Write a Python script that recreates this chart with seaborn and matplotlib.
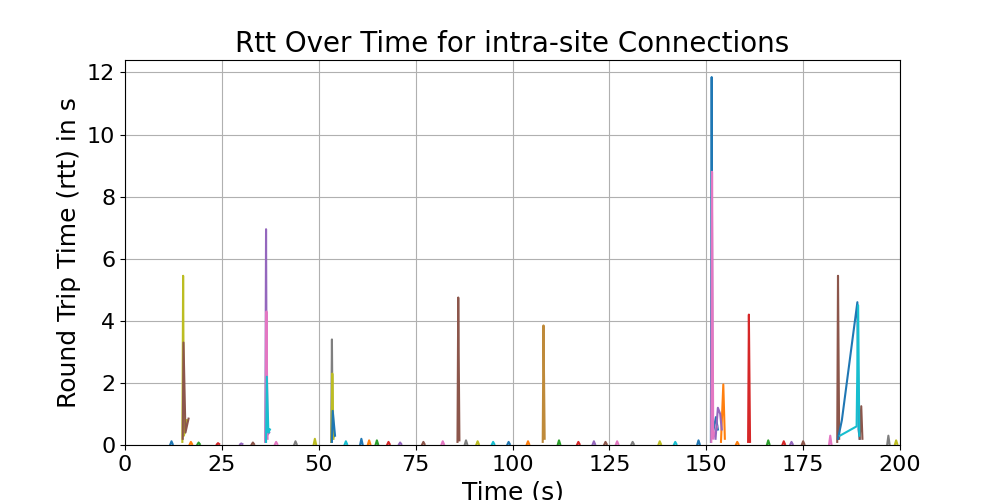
import matplotlib
matplotlib.use("Agg")
import matplotlib.pyplot as plt
import seaborn as sns
import pandas as pd

# each connection: sample times (s) and rtt values (s)
conn_times = [
    [14.8, 15.0, 15.2, 16.0], [14.9, 15.1, 15.6, 16.4], [36.2, 36.4, 36.6, 37.2],
    [36.3, 36.5, 36.8], [36.4, 36.6, 37.0, 37.4], [53.2, 53.4, 53.6, 54.0],
    [53.3, 53.5, 53.8], [53.4, 53.6, 54.2], [85.8, 86.0, 86.3], [107.8, 108.0, 108.3],
    [151.2, 151.4, 151.6, 152.5, 153.0], [151.3, 151.5, 151.8, 152.8], [153.8, 154.4, 154.8],
    [152.4, 153.0, 153.6, 154.0], [160.8, 161.0, 161.3], [183.8, 184.0, 184.3],
    [184.0, 185.0, 189.0, 189.3, 189.6], [189.6, 190.0, 190.3], [184.5, 188.8, 189.2, 189.5],
]
conn_rtts = [
    [0.1, 5.45, 0.3, 0.8], [0.2, 3.3, 0.4, 0.85], [0.1, 6.95, 0.3, 0.4],
    [0.1, 4.3, 0.2], [0.1, 2.2, 0.4, 0.5], [0.1, 3.4, 0.2, 0.3],
    [0.1, 2.3, 0.2], [0.1, 1.1, 0.3], [0.1, 4.75, 0.15], [0.1, 3.85, 0.2],
    [0.1, 11.85, 0.3, 0.9, 0.5], [0.1, 8.8, 0.2, 0.6], [0.1, 1.95, 0.2],
    [0.2, 1.2, 1.0, 0.5], [0.1, 4.2, 0.1], [0.1, 5.45, 0.2],
    [0.2, 0.8, 4.6, 0.5, 0.2], [0.2, 1.25, 0.2], [0.3, 0.6, 4.5, 0.3],
]
conn_colors = ["#bcbd22", "#8c564b", "#9467bd", "#e377c2", "#17becf", "#7f7f7f",
               "#bcbd22", "#1f77b4", "#8c564b", "#bf8a3a", "#1f77b4", "#e377c2",
               "#ff7f0e", "#9467bd", "#d62728", "#8c564b", "#1f77b4", "#8c564b",
               "#17becf"]
blip_times = [12, 17, 19, 24, 30, 33, 39, 44, 49, 57, 61, 63, 65, 68, 71, 77, 82, 88,
              91, 95, 99, 104, 112, 117, 121, 124, 127, 131, 138, 142, 148, 158, 166,
              170, 172, 175, 182, 197, 199]
blip_rtts = [0.12, 0.1, 0.08, 0.06, 0.05, 0.08, 0.1, 0.12, 0.2, 0.12, 0.2, 0.15, 0.15,
             0.1, 0.08, 0.1, 0.12, 0.15, 0.12, 0.1, 0.1, 0.12, 0.15, 0.1, 0.12, 0.1,
             0.12, 0.1, 0.12, 0.1, 0.15, 0.1, 0.15, 0.12, 0.1, 0.12, 0.3, 0.3, 0.15]

tab = sns.color_palette("tab10").as_hex()
rows = []
palette = {}
for i, (ts, rs) in enumerate(zip(conn_times, conn_rtts)):
    palette[f"c{i}"] = conn_colors[i]
    for t, r in zip(ts, rs):
        rows.append({"conn": f"c{i}", "time": t, "rtt": r})
for j, (t, r) in enumerate(zip(blip_times, blip_rtts)):
    k = len(conn_times) + j
    palette[f"c{k}"] = tab[j % 10]
    rows.append({"conn": f"c{k}", "time": t - 0.3, "rtt": 0.02})
    rows.append({"conn": f"c{k}", "time": t, "rtt": r})
    rows.append({"conn": f"c{k}", "time": t + 0.3, "rtt": 0.03})
df = pd.DataFrame(rows)

fig, ax = plt.subplots(figsize=(10, 5), dpi=100)
fig.subplots_adjust(left=0.125, right=0.9, top=0.88, bottom=0.11)
sns.lineplot(data=df, x="time", y="rtt", hue="conn", palette=palette,
             estimator=None, sort=False, legend=False, ax=ax, linewidth=1.5)
ax.set_xlim(0, 200)
ax.set_ylim(0, 12.4)
ax.grid(True)
ax.set_title("Rtt Over Time for intra-site Connections", fontsize=20)
ax.set_xlabel("Time (s)", fontsize=18)
ax.set_ylabel("Round Trip Time (rtt) in s", fontsize=18)
ax.tick_params(labelsize=16)
fig.savefig("out.png")
